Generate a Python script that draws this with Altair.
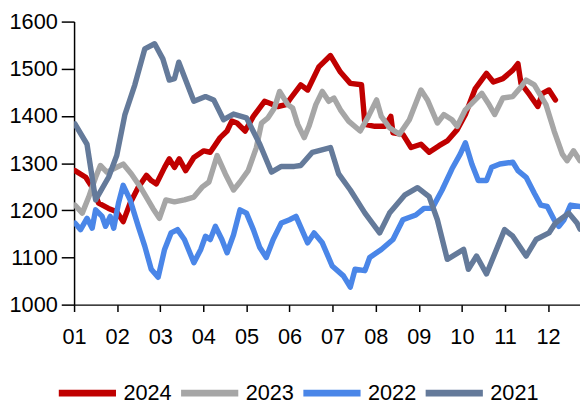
import altair as alt
import pandas as pd

series_names = ["2024", "2023", "2022", "2021"]
series_colors = ["#C00000", "#A6A6A6", "#4A86E8", "#647A9A"]

x_2024 = [1.02, 1.27, 1.42, 1.57, 1.80, 1.99, 2.14, 2.30, 2.49, 2.68, 2.79, 2.91, 3.10, 3.21, 3.33, 3.44,
          3.59, 3.78, 4.01, 4.16, 4.39, 4.55, 4.66, 4.78, 4.97, 5.16, 5.42, 5.54, 5.73, 5.92, 6.03, 6.26,
          6.42, 6.68, 6.95, 7.18, 7.41, 7.67, 7.75, 7.98, 8.21, 8.35, 8.40, 8.63, 8.82, 9.05, 9.24, 9.47,
          9.66, 9.89, 10.08, 10.31, 10.57, 10.73, 10.95, 11.18, 11.30, 11.37, 11.57, 11.76, 11.87, 12.02, 12.17]
y_2024 = [1284, 1270, 1249, 1215, 1204, 1197, 1176, 1215, 1249, 1274, 1263, 1256, 1291, 1309, 1291, 1309,
          1284, 1312, 1326, 1323, 1354, 1368, 1389, 1385, 1368, 1399, 1431, 1427, 1420, 1424, 1438, 1466,
          1455, 1504, 1528, 1493, 1469, 1466, 1382, 1378, 1378, 1399, 1364, 1361, 1333, 1340, 1323, 1337,
          1347, 1371, 1403, 1458, 1490, 1472, 1479, 1497, 1511, 1469, 1445, 1420, 1448, 1455, 1434]

x_2023 = [1.02, 1.19, 1.34, 1.50, 1.61, 1.76, 1.92, 2.14, 2.33, 2.56, 2.83, 2.98, 3.13, 3.33, 3.56, 3.78,
          3.97, 4.13, 4.32, 4.51, 4.70, 4.85, 5.04, 5.23, 5.35, 5.50, 5.65, 5.77, 5.96, 6.07, 6.19, 6.34,
          6.45, 6.61, 6.76, 6.91, 7.03, 7.18, 7.37, 7.64, 7.83, 8.02, 8.13, 8.32, 8.55, 8.78, 9.05, 9.20,
          9.43, 9.58, 9.77, 9.89, 10.08, 10.31, 10.46, 10.61, 10.76, 10.95, 11.18, 11.34, 11.49, 11.68,
          11.95, 12.14, 12.33, 12.44, 12.59, 12.74]
y_2023 = [1211, 1194, 1228, 1270, 1295, 1281, 1288, 1298, 1277, 1246, 1204, 1183, 1222, 1218, 1222, 1228,
          1249, 1260, 1316, 1277, 1243, 1260, 1284, 1333, 1385, 1396, 1417, 1452, 1424, 1417, 1382, 1354,
          1378, 1424, 1452, 1431, 1438, 1413, 1389, 1368, 1399, 1434, 1399, 1375, 1361, 1392, 1455, 1434,
          1385, 1403, 1392, 1378, 1413, 1434, 1448, 1427, 1403, 1438, 1441, 1458, 1476, 1466,
          1424, 1368, 1319, 1305, 1326, 1305]

x_2022 = [1.02, 1.15, 1.30, 1.42, 1.50, 1.65, 1.73, 1.84, 1.92, 2.03, 2.14, 2.30, 2.49, 2.64, 2.79, 2.95,
          3.10, 3.25, 3.40, 3.56, 3.78, 3.94, 4.05, 4.16, 4.28, 4.43, 4.55, 4.70, 4.85, 5.00, 5.16, 5.31,
          5.46, 5.62, 5.81, 6.00, 6.15, 6.42, 6.57, 6.76, 6.99, 7.25, 7.41, 7.52, 7.75, 7.86, 8.13, 8.40,
          8.63, 8.93, 9.12, 9.31, 9.54, 9.77, 9.96, 10.08, 10.23, 10.38, 10.57, 10.69, 10.88, 11.18, 11.30,
          11.49, 11.68, 11.83, 11.98, 12.14, 12.25, 12.37, 12.52, 12.74]
y_2022 = [1173, 1159, 1183, 1162, 1201, 1187, 1166, 1187, 1162, 1215, 1253, 1222, 1166, 1124, 1075, 1058,
          1117, 1152, 1159, 1138, 1089, 1117, 1145, 1138, 1166, 1138, 1110, 1148, 1201, 1194, 1159, 1121,
          1100, 1138, 1173, 1180, 1187, 1131, 1152, 1131, 1082, 1061, 1037, 1075, 1072, 1100, 1117, 1138,
          1180, 1190, 1204, 1204, 1243, 1288, 1319, 1343, 1298, 1263, 1263, 1291, 1298, 1302, 1284,
          1270, 1236, 1211, 1208, 1180, 1166, 1180, 1211, 1208]

x_2021 = [1.02, 1.30, 1.50, 1.80, 1.99, 2.18, 2.41, 2.64, 2.87, 3.06, 3.21, 3.33, 3.43, 3.56, 3.78, 4.05,
          4.24, 4.47, 4.70, 5.00, 5.31, 5.58, 5.81, 6.11, 6.26, 6.53, 6.95, 7.14, 7.41, 7.75, 8.09, 8.32,
          8.67, 8.97, 9.24, 9.43, 9.66, 10.04, 10.15, 10.34, 10.57, 10.99, 11.18, 11.49, 11.72, 12.02,
          12.17, 12.48, 12.67, 12.74]
y_2021 = [1383, 1340, 1222, 1270, 1316, 1403, 1466, 1542, 1553, 1521, 1476, 1479, 1514, 1483, 1431, 1441,
          1434, 1392, 1404, 1396, 1340, 1281, 1293, 1293, 1295, 1323, 1333, 1277, 1243, 1194, 1152, 1194,
          1232, 1248, 1229, 1180, 1096, 1117, 1075, 1103, 1065, 1159, 1145, 1103, 1138, 1152,
          1173, 1194, 1173, 1160]

month_ticks = [1, 2, 3, 4, 5, 6, 7, 8, 9, 10, 11, 12]
y_ticks = [1000, 1100, 1200, 1300, 1400, 1500, 1600]

frames = []
for name, xs, ys in [("2024", x_2024, y_2024), ("2023", x_2023, y_2023),
                     ("2022", x_2022, y_2022), ("2021", x_2021, y_2021)]:
    frames.append(pd.DataFrame({"month": xs, "value": ys, "series": name, "idx": range(len(xs))}))
df = pd.concat(frames, ignore_index=True)

FONT = "Liberation Sans"

color_scale = alt.Scale(domain=series_names, range=series_colors)
x_enc = alt.X("month:Q", scale=alt.Scale(domain=[1, 12.74], nice=False, zero=False),
              axis=alt.Axis(values=month_ticks, title=None, tickSize=7, labelPadding=15,
                            labelFlush=False, labelOverlap=False,
                            labelFont=FONT, labelFontSize=22, labelColor="black",
                            domainColor="black", domainWidth=1.5, tickColor="black", tickWidth=1.5,
                            grid=False,
                            labelExpr="datum.value < 10 ? '0' + datum.value : '' + datum.value"))
y_enc = alt.Y("value:Q", scale=alt.Scale(domain=[1000, 1600], nice=False, zero=False),
              axis=alt.Axis(values=y_ticks, title=None, tickSize=13, labelPadding=4, format="d",
                            labelFlush=False, labelOverlap=False,
                            labelFont=FONT, labelFontSize=22, labelColor="black",
                            domainColor="black", domainWidth=1.5, tickColor="black", tickWidth=1.5,
                            grid=False))

layers = []
for name in series_names:
    layers.append(
        alt.Chart(df).transform_filter(alt.datum.series == name)
        .mark_line(strokeWidth=5.5, clip=True, strokeJoin="round", strokeCap="round")
        .encode(
            x=x_enc, y=y_enc, order="idx:Q",
            color=alt.Color("series:N", scale=color_scale, sort=series_names,
                            legend=alt.Legend(title=None, orient="none", direction="horizontal",
                                              legendX=-19, legendY=344, symbolType="stroke",
                                              symbolStrokeWidth=7, symbolSize=3364,
                                              labelFontSize=22, labelOffset=4, columnPadding=-5,
                                              labelFont=FONT, labelColor="black")),
        )
    )

chart = alt.layer(*layers).properties(
    width=513, height=287,
    autosize=alt.AutoSizeParams(type="none"),
    padding={"left": 67, "top": 11, "right": 0, "bottom": 100},
).configure_view(stroke=None)

chart.save("out.html", embed_options={"renderer": "svg", "actions": False})
